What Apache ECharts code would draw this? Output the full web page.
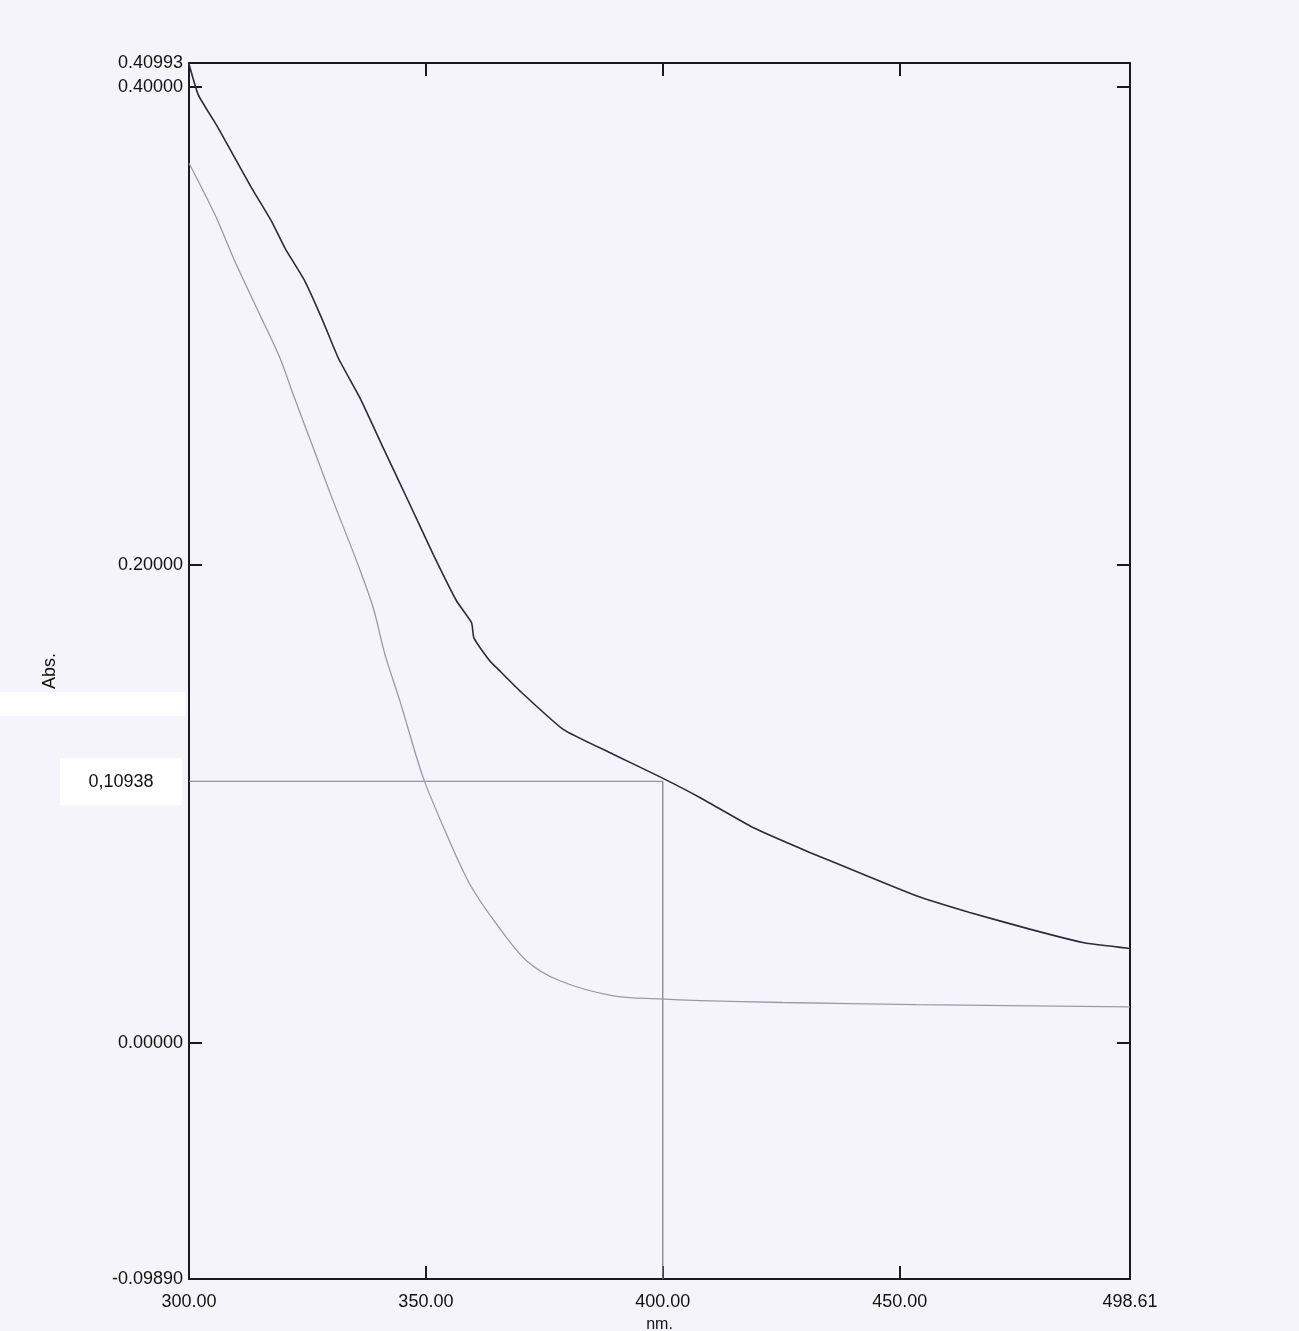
<!DOCTYPE html>
<html>
<head>
<meta charset="utf-8">
<script src="https://cdn.jsdelivr.net/npm/echarts@6/dist/echarts.min.js"></script>
<style>
html,body{margin:0;padding:0;background:#f6f4fb;}
#c{width:1299px;height:1331px;}
</style>
</head>
<body>
<div id="c"></div>
<script>
// wavelength (nm) / absorbance pairs
const darkNm  = [300.0, 301.96, 306.18, 309.70, 313.23, 317.45, 320.25, 324.47, 328.0, 331.5, 336.08, 340.99, 346.62, 351.54, 356.48, 359.64, 360.13, 363.50, 364.92, 369.83, 378.97, 389.51, 399.73, 407.81, 419.05, 431.01, 442.26, 453.52, 464.77, 477.43, 488.67, 498.61];
const darkAbs = [0.4095, 0.3966, 0.3827, 0.3701, 0.3576, 0.3436, 0.3325, 0.3186, 0.3032, 0.2865, 0.2698, 0.2489, 0.2252, 0.2043, 0.1848, 0.1757, 0.1694, 0.1597, 0.1569, 0.1472, 0.1311, 0.1207, 0.1109, 0.1026, 0.0900, 0.0796, 0.0705, 0.0615, 0.0545, 0.0475, 0.0419, 0.0394];
const lightNm  = [300.0, 305.49, 309.70, 314.62, 319.2, 322.0, 326.22, 330.44, 335.38, 338.88, 341.35, 344.51, 349.43, 354.37, 359.28, 364.92, 371.24, 378.27, 389.51, 399.37, 407.81, 425.38, 453.52, 498.61];
const lightAbs = [0.368, 0.3464, 0.3269, 0.3060, 0.2865, 0.2712, 0.2489, 0.2266, 0.2015, 0.1820, 0.1625, 0.1430, 0.1109, 0.0872, 0.0663, 0.0496, 0.0343, 0.0259, 0.0196, 0.0183, 0.0176, 0.0168, 0.0159, 0.0150];
const xTickLabels = [300, 350, 400, 450, 498.61];
const xInnerTicks = [350, 400, 450];
const yTickLabels = [-0.0989, 0, 0.2, 0.4, 0.40993];
const yInnerTicks = [0, 0.2, 0.4];
const xMin = 300, xMax = 498.61, yMin = -0.0989, yMax = 0.40993;
const cursorNm = 400, cursorAbs = 0.10938;
const cursorText = '0,10938';

const chart = echarts.init(document.getElementById('c'), null, {renderer: 'canvas'});
const font = '"Liberation Sans", Arial, sans-serif';
const zip = (a, b) => a.map((v, i) => [v, b[i]]);

const axisLine = {show: true, onZero: false, lineStyle: {color: '#1a1a22', width: 2}};
const tick = list => ({show: true, inside: true, length: 13, customValues: list, lineStyle: {color: '#1a1a22', width: 2}});
const option = {
  backgroundColor: '#f6f4fb',
  animation: false,
  grid: {left: 189, right: 169, top: 63, bottom: 52, outerBoundsMode: 'none', containLabel: false},
  xAxis: [{
    type: 'value', min: xMin, max: xMax, position: 'bottom',
    name: 'nm.', nameLocation: 'middle', nameGap: 38,
    nameTextStyle: {fontFamily: font, fontSize: 16, color: '#111'},
    axisLine: axisLine, splitLine: {show: false},
    axisTick: tick(xInnerTicks),
    axisLabel: {customValues: xTickLabels, formatter: v => v.toFixed(2), fontFamily: font, fontSize: 18, color: '#111', margin: 14}
  }, {
    type: 'value', min: xMin, max: xMax, position: 'top',
    axisLine: axisLine, splitLine: {show: false},
    axisTick: tick(xInnerTicks),
    axisLabel: {show: false}
  }],
  yAxis: [{
    type: 'value', min: yMin, max: yMax, position: 'left',
    name: 'Abs.', nameLocation: 'middle', nameGap: 130, nameRotate: 90,
    nameTextStyle: {fontFamily: font, fontSize: 18, color: '#111'},
    axisLine: axisLine, splitLine: {show: false},
    axisTick: tick(yInnerTicks),
    axisLabel: {customValues: yTickLabels, formatter: v => v.toFixed(5), fontFamily: font, fontSize: 18, color: '#111', margin: 6}
  }, {
    type: 'value', min: yMin, max: yMax, position: 'right',
    axisLine: axisLine, splitLine: {show: false},
    axisTick: tick(yInnerTicks),
    axisLabel: {show: false}
  }],
  series: [{
    type: 'line', data: [[xMin, cursorAbs], [cursorNm, cursorAbs], [cursorNm, yMin]],
    symbol: 'none', lineStyle: {color: '#7c7c86', width: 1.2}, z: 1
  }, {
    type: 'line', data: zip(lightNm, lightAbs), symbol: 'none', smooth: 0.3,
    lineStyle: {color: '#9a98a6', width: 1.3}, z: 2
  }, {
    type: 'line', data: zip(darkNm, darkAbs), symbol: 'none', smooth: 0.15,
    lineStyle: {color: '#2b2a3a', width: 1.6}, z: 3
  }]
};
chart.setOption(option);

const cy = chart.convertToPixel({xAxisIndex: 0, yAxisIndex: 0}, [xMin, cursorAbs])[1];
const gx = chart.convertToPixel({xAxisIndex: 0, yAxisIndex: 0}, [xMin, 0])[0];
chart.setOption({
  graphic: [
    {type: 'rect', left: 0, top: 692, shape: {width: gx - 4, height: 24}, style: {fill: '#ffffff'}, z: 0},
    {type: 'rect', x: 60, y: cy - 23, shape: {width: 122, height: 47}, style: {fill: '#ffffff'}, z: 10},
    {type: 'text', x: 121, y: cy + 1, style: {text: cursorText, fontFamily: font, fontSize: 18, fill: '#111', align: 'center', verticalAlign: 'middle'}, z: 11}
  ]
});
</script>
</body>
</html>
